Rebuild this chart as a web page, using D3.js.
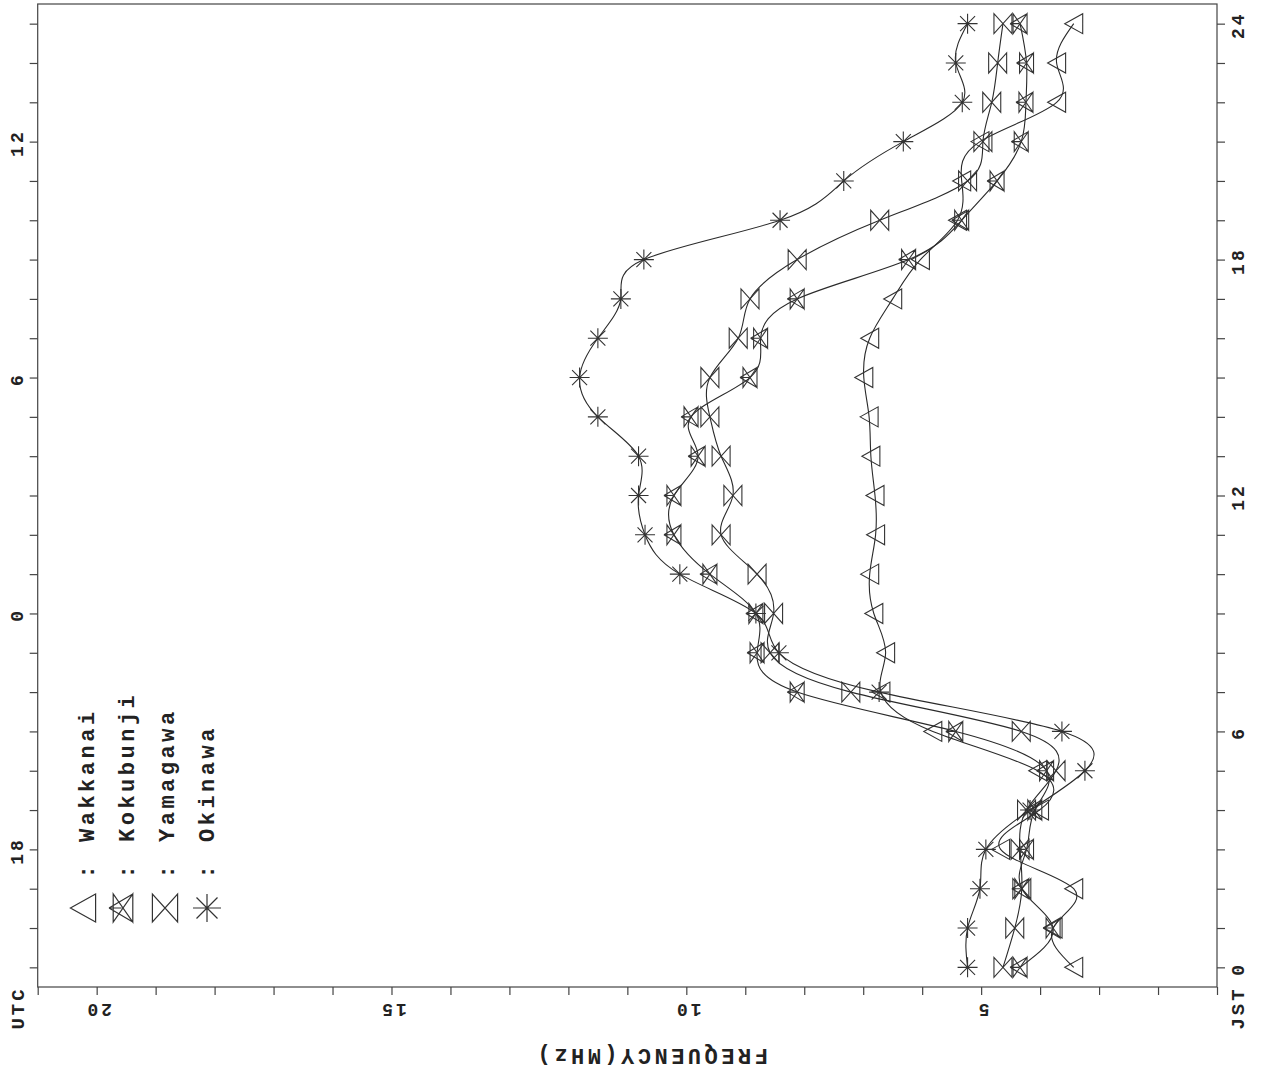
<!DOCTYPE html>
<html><head><meta charset="utf-8">
<script src="https://cdn.jsdelivr.net/npm/d3@7"></script>
<style>
html,body{margin:0;padding:0;background:#fff;}
svg{display:block;}
text{font-family:"Liberation Mono","DejaVu Sans Mono",monospace;font-weight:bold;fill:#222;}
</style>
</head><body>
<svg id="c" width="1264" height="1077"></svg>
<script>
// ---- data ----
const hoursJST = [0,1,2,3,4,5,6,7,8,9,10,11,12,13,14,15,16,17,18,19,20,21,22,23,24];
const stations = ["Wakkanai","Kokubunji","Yamagawa","Okinawa"];
const wakkanai  = [3.43,3.78,3.43,4.67,4.01,4.04,5.82,6.70,6.62,6.82,6.89,6.79,6.80,6.87,6.90,6.99,6.89,6.50,6.03,5.40,5.33,5.02,3.72,3.72,3.43];
const kokubunji = [4.34,3.78,4.31,4.23,4.09,3.89,5.43,8.12,8.80,8.82,9.60,10.21,10.21,9.80,9.92,8.92,8.74,8.12,6.23,5.33,4.73,4.32,4.24,4.23,4.34];
const yamagawa  = [4.63,4.43,4.31,4.34,4.23,3.73,4.32,7.21,8.58,8.52,8.80,9.41,9.21,9.41,9.60,9.60,9.12,8.92,8.12,6.72,5.23,4.97,4.82,4.72,4.63];
const okinawa   = [5.23,5.23,5.02,4.92,4.17,3.24,3.63,6.73,8.43,8.82,10.11,10.70,10.81,10.81,11.50,11.81,11.50,11.11,10.72,8.41,7.33,6.32,5.32,5.43,5.23];
const freqTickValues = [1,2,3,4,5,6,7,8,9,10,11,12,13,14,15,16,17,18,19,20,21];
const freqLabels = [20,15,10,5];
const jstLabels = [0,6,12,18,24];
const utcLabels = [18,0,6,12];
const utcOffset = 9;
const titleText = "FREQUENCY(MHz)";

// ---- layout ----
const svg = d3.select("#c");
const L = 37.7, R = 1217, T = 4, B = 987;
const x = d3.scaleLinear().domain([21,1]).range([L,R]);
const y = d3.scaleLinear().domain([-0.5,24.5]).range([B,T]);
const ink = "#2a2a2a";

// frame
svg.append("rect").attr("x",L).attr("y",T).attr("width",R-L).attr("height",B-T)
  .attr("fill","none").attr("stroke","#444").attr("stroke-width",1.2);

// axes (ticks only)
function styleAxis(g){ g.select(".domain").remove(); g.selectAll("line").attr("stroke","#444").attr("stroke-width",1.2); }
svg.append("g").attr("transform",`translate(0,${B})`)
  .call(d3.axisBottom(x).tickValues(freqTickValues).tickSize(8).tickFormat("")).call(styleAxis);
svg.append("g").attr("transform",`translate(${R},0)`)
  .call(d3.axisRight(y).tickValues(hoursJST).tickSize(8).tickFormat("")).call(styleAxis);
svg.append("g").attr("transform",`translate(${L},0)`)
  .call(d3.axisLeft(y).tickValues(hoursJST).tickSize(8).tickFormat("")).call(styleAxis);

// tick labels
const tickFont = "18px", tickLS = "3px";
svg.selectAll(".fl").data(freqLabels).join("text")
  .attr("transform",d=>`translate(${x(d)+1.5},1010) rotate(180)`)
  .attr("text-anchor","middle").attr("dy","0.35em")
  .style("font-size",tickFont).style("letter-spacing",tickLS).text(d=>d);
svg.selectAll(".jl").data(jstLabels).join("text")
  .attr("transform",d=>`translate(1238,${y(d)+1.5}) rotate(-90)`)
  .attr("text-anchor","middle").attr("dy","0.35em")
  .style("font-size",tickFont).style("letter-spacing",tickLS).text(d=>d);
svg.selectAll(".ul").data(utcLabels).join("text")
  .attr("transform",d=>`translate(17,${y((d+utcOffset)%24)+1.5}) rotate(-90)`)
  .attr("text-anchor","middle").attr("dy","0.35em")
  .style("font-size",tickFont).style("letter-spacing",tickLS).text(d=>d);

svg.append("text").attr("transform","translate(17,1008) rotate(-90)")
  .attr("text-anchor","middle").attr("dy","0.35em").style("font-size","19px").style("letter-spacing","3px").text("UTC");
svg.append("text").attr("transform","translate(1237,1008) rotate(-90)")
  .attr("text-anchor","middle").attr("dy","0.35em").style("font-size","19px").style("letter-spacing","3px").text("JST");
svg.append("text").attr("transform","translate(651,1057) rotate(180)")
  .attr("text-anchor","middle").attr("dy","0.35em")
  .style("font-size","22px").style("letter-spacing","3.5px").text(titleText);

// markers
const markerPaths = {
  Wakkanai: s=>`M${-9*s},0L${9*s},${-10*s}L${9*s},${10*s}Z`,
  Kokubunji: s=>`M${-7*s},${-10*s}L${-7*s},${10*s}L${7*s},${-10*s}L${7*s},${10*s}Z`+
     `M${-10*s},0L${7*s},${-10*s}M${-10*s},0L${7*s},${10*s}`+
     `M${-10*s},0L${-1*s},0`,
  Yamagawa: s=>`M${-9*s},${-10*s}L${-9*s},${10*s}L${9*s},${-10*s}L${9*s},${10*s}Z`,
  Okinawa: s=>`M${-10*s},0L${10*s},0M0,${-10*s}L0,${10*s}M${-7.5*s},${-7.5*s}L${7.5*s},${7.5*s}M${-7.5*s},${7.5*s}L${7.5*s},${-7.5*s}`
};

const seriesList = [wakkanai,kokubunji,yamagawa,okinawa];
const line = d3.line().x(d=>x(d[1])).y(d=>y(d[0])).curve(d3.curveNatural);

seriesList.forEach((vals,i)=>{
  const pts = hoursJST.map((h,j)=>[h,vals[j]]);
  svg.append("path").attr("d",line(pts)).attr("fill","none").attr("stroke",ink).attr("stroke-width",1.1);
  svg.append("g").selectAll("path").data(pts).join("path")
    .attr("transform",d=>`translate(${x(d[1])},${y(d[0])})`)
    .attr("d",markerPaths[stations[i]](1))
    .attr("fill","none").attr("stroke","#333").attr("stroke-width",1.1);
});

// legend
const legX = [83,123,165,207];
const legBase = [94,134,174,214];
stations.forEach((s,i)=>{
  svg.append("path").attr("transform",`translate(${legX[i]},908)`)
    .attr("d",markerPaths[s](1.4)).attr("fill","none").attr("stroke","#333").attr("stroke-width",1.2);
  svg.append("text").attr("transform",`translate(${legBase[i]},872) rotate(-90)`)
    .attr("text-anchor","middle").style("font-size","22px").text(":");
  svg.append("text").attr("transform",`translate(${legBase[i]},842) rotate(-90)`)
    .attr("text-anchor","start").style("font-size","22px").style("letter-spacing","3.5px").text(s);
});
</script>
</body></html>
